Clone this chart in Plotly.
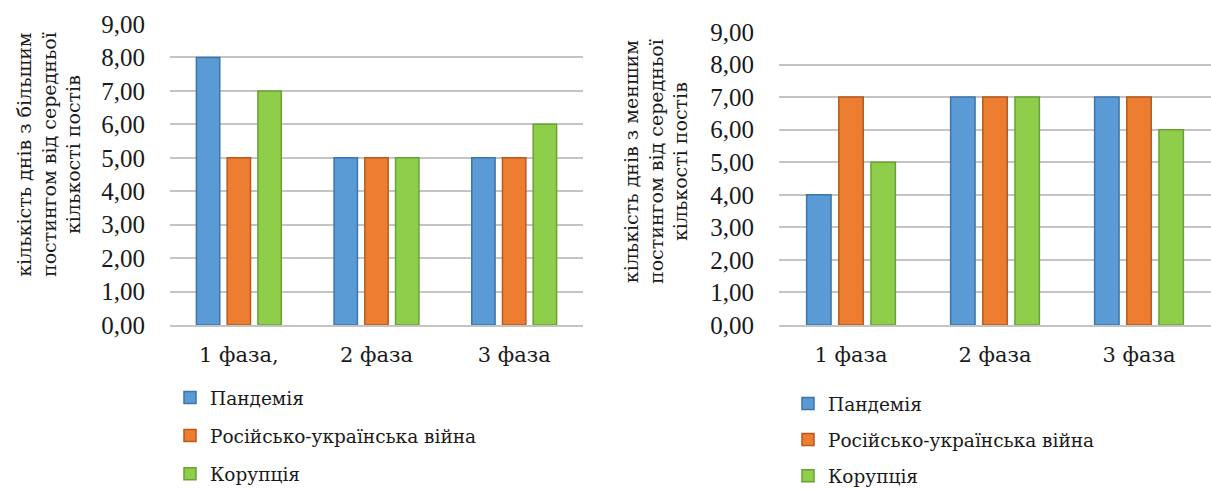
import plotly.graph_objects as go

series = ["Пандемія", "Російсько-українська війна", "Корупція"]
cats_left = ["1 фаза,", "2 фаза", "3 фаза"]
cats_right = ["1 фаза", "2 фаза", "3 фаза"]
left_values = {
    "Пандемія": [8, 5, 5],
    "Російсько-українська війна": [5, 5, 5],
    "Корупція": [7, 5, 6],
}
right_values = {
    "Пандемія": [4, 7, 7],
    "Російсько-українська війна": [7, 7, 7],
    "Корупція": [5, 7, 6],
}
y_ticks = [0, 1, 2, 3, 4, 5, 6, 7, 8, 9]
y_ticktext = ["0,00", "1,00", "2,00", "3,00", "4,00", "5,00", "6,00", "7,00", "8,00", "9,00"]
left_title = "кількість днів з більшим<br>постингом від середньої<br>кількості постів"
right_title = "кількість днів з меншим<br>постингом від середньої<br>кількості постів"

fills = ["#5b9bd5", "#ed7d31", "#8fce4a"]
lines = ["#3e76ab", "#b85a1c", "#6aa232"]

W, H = 1211, 489
NUMFONT = "Liberation Serif, Times New Roman, serif"
CYRFONT = "DejaVu Serif, Liberation Serif, serif"
TXT = "#1a1a1a"

fig = go.Figure()
for i, s in enumerate(series):
    fig.add_trace(go.Bar(
        x=cats_left, y=left_values[s], name=s, xaxis="x", yaxis="y",
        marker=dict(color=fills[i], line=dict(color=lines[i], width=1.5)),
        legend="legend", legendgroup="L" + str(i),
    ))
for i, s in enumerate(series):
    fig.add_trace(go.Bar(
        x=cats_right, y=right_values[s], name=s, xaxis="x2", yaxis="y2",
        marker=dict(color=fills[i], line=dict(color=lines[i], width=1.5)),
        legend="legend2", legendgroup="R" + str(i),
    ))

def py(px):
    return 1 - px / H

axis_common = dict(
    range=[0, 9], tickvals=y_ticks, ticktext=y_ticktext,
    showgrid=True, gridcolor="#c4c4c4", gridwidth=2,
    zeroline=False, showline=False,
    ticks="outside", ticklen=19, tickcolor="rgba(0,0,0,0)",
    tickfont=dict(family=NUMFONT, size=25, color=TXT),
    fixedrange=True, automargin=False,
)
xaxis_common = dict(
    showgrid=False, showline=True, linecolor="#c4c4c4", linewidth=2,
    ticks="outside", ticklen=10, tickcolor="rgba(0,0,0,0)",
    tickfont=dict(family=CYRFONT, size=21, color=TXT), automargin=False,
)

fig.update_layout(
    width=W, height=H,
    margin=dict(l=0, r=0, t=0, b=0, autoexpand=False),
    paper_bgcolor="white", plot_bgcolor="white",
    barmode="group", bargap=0.33, bargroupgap=0.24,
    font=dict(family=CYRFONT, size=21, color=TXT),
    xaxis=dict(domain=[170 / W, 583 / W], anchor="y", **xaxis_common),
    yaxis=dict(domain=[py(325), py(24)], anchor="x", **axis_common),
    xaxis2=dict(domain=[779 / W, 1.0], anchor="y2", **xaxis_common),
    yaxis2=dict(domain=[py(325), py(32)], anchor="x2", **axis_common),
    legend=dict(x=170 / W, y=py(379), xanchor="left", yanchor="top",
                orientation="v", tracegroupgap=11,
                font=dict(family=CYRFONT, size=18.5, color=TXT),
                bgcolor="rgba(0,0,0,0)"),
    legend2=dict(x=788 / W, y=py(385), xanchor="left", yanchor="top",
                 orientation="v", tracegroupgap=9,
                 font=dict(family=CYRFONT, size=18.5, color=TXT),
                 bgcolor="rgba(0,0,0,0)"),
    annotations=[
        dict(text=left_title, x=48 / W, y=py(155), xref="paper", yref="paper",
             textangle=-90, showarrow=False, xanchor="center", yanchor="middle",
             font=dict(family=CYRFONT, size=19, color=TXT)),
        dict(text=right_title, x=655 / W, y=py(162), xref="paper", yref="paper",
             textangle=-90, showarrow=False, xanchor="center", yanchor="middle",
             font=dict(family=CYRFONT, size=19, color=TXT)),
    ],
)

fig.write_html("out.html", config={"displayModeBar": False},
               post_script="document.body.style.margin='0';")
